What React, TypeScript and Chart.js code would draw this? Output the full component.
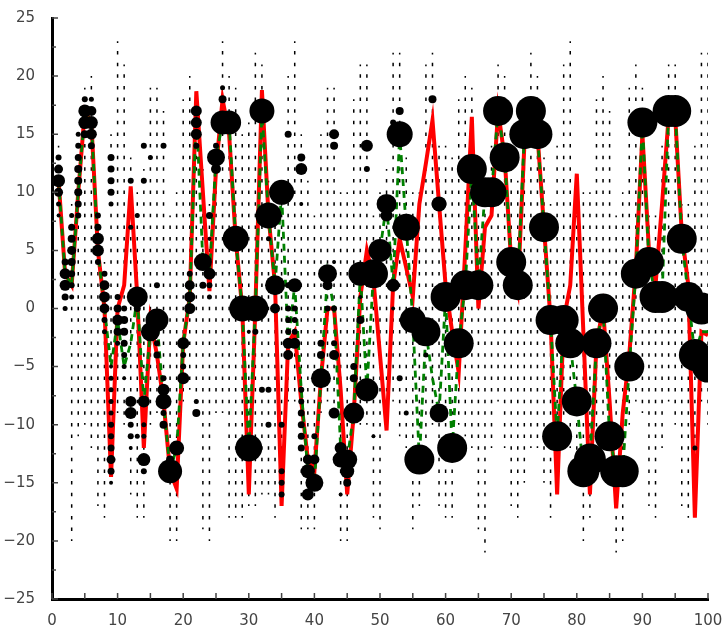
import React, { useEffect, useRef } from "react";
import { Chart, registerables } from "chart.js";

Chart.register(...registerables);

const xValues = [
  1, 2, 3, 4, 5, 6, 7, 8, 9, 10, 11, 12, 13, 14, 15, 16, 17, 18, 19, 20,
  21, 22, 23, 24, 25, 26, 27, 28, 29, 30, 31, 32, 33, 34, 35, 36, 37, 38, 39, 40,
  41, 42, 43, 44, 45, 46, 47, 48, 49, 50, 51, 52, 53, 54, 55, 56, 57, 58, 59, 60,
  61, 62, 63, 64, 65, 66, 67, 68, 69, 70, 71, 72, 73, 74, 75, 76, 77, 78, 79, 80,
  81, 82, 83, 84, 85, 86, 87, 88, 89, 90, 91, 92, 93, 94, 95, 96, 97, 98, 99, 100,
];

const redValues = [
  11, 3, 2, 10, 17, 16, 5, 0, -14.5, 0,
  2, 10.5, 1, -12, -1, -4, -8, -14, -15.5, -3,
  1, 18.7, 10, 1.5, 12, 18, 15, 6, 0, -16,
  0, 18.8, 8, 2, -17, -3, -2, -8, -13, -14,
  -6, 0, 0, -7, -16, -9, 1, 5, 2.5, -4,
  -10.5, 2, 6, 3.5, 1, 9, 12.5, 16.2, 9, 2,
  -2, -5.5, 5, 16.5, 0, 7, 8, 17, 13, 4,
  1.5, 14, 17, 15, 7, -1, -16, -1, 2, 11.6,
  -2, -16, -3, 0, -8, -17.2, -9, -4, 3.5, 15,
  5, 2, 9, 16.5, 16.5, 6.5, 2, -18, -2, -2.3,
];

const greenValues = [
  11, 3, 2, 10, 17, 16, 5, 0, -5, -1,
  -5, -3, 1, -8, -2, -1, -8, -14, -12, -3,
  1, 17, 4, 3, 13, 16, 16, 6, 0, -12,
  0, 17, 8, 2, 10, -3, 2, -7, -14, -15,
  -6, 3, 0, -12, -13, -9, 3, -7, 3, 5,
  9, 2, 15, 7, -1, -13, -2, -6, -9, 1,
  -12, -3, 2, 12, 2, 10, 10, 17, 13, 4,
  2, 15, 17, 15, 7, -1, -11, -1, -3, -8,
  -14, -13, -3, 0, -11, -14, -14, -5, 3, 16,
  4, 1, 1, 17, 17, 6, 1, -4, -2, -2,
];

// [x, y, radius]
const bubblePoints = [
  [1, 11, 6.5], [1, 12, 4.5], [1, 10, 4.5],
  [2, 3, 5.5], [2, 2, 5.5],
  [3, 5, 4.5], [3, 6, 4], [3, 4, 4],
  [5, 17, 6.5], [5, 16, 6.5], [6, 16, 6.5], [6, 17, 5], [6, 15, 5.5],
  [7, 6, 6], [7, 5, 6],
  [8, 1, 5.5], [8, 2, 5], [8, 0, 5],
  [9, -13, 4.5], [10, -1, 5.5], [12, -8, 5.5], [12, -9, 6],
  [13, 1, 10.5], [14, -8, 6], [14, -13, 6.5],
  [15, -2, 9.5], [16, -1, 11.5], [17, -8, 8], [17, -7, 6],
  [18, -14, 12], [19, -12, 7.5], [20, -3, 6], [20, -6, 6],
  [21, 1, 5.5], [21, 0, 5.5], [21, 2, 5],
  [22, 17, 5.5], [22, 16, 5.5], [22, 15, 5.5],
  [23, 4, 9], [24, 3, 6], [25, 13, 9], [25, 12, 5],
  [26, 16, 12], [27, 16, 12], [28, 6, 13], [29, 0, 13], [30, -12, 13.5],
  [31, 0, 13], [32, 17, 12.5], [33, 8, 13], [34, 2, 10], [35, 10, 12.5],
  [36, -3, 5.5], [36, -4, 5], [37, 2, 7], [37, -3, 5.5],
  [38, 12, 6], [38, 13, 4],
  [39, -13, 5], [39, -14, 7], [39, -16, 6], [40, -13, 5], [40, -15, 9],
  [41, -6, 10], [42, 3, 9.5], [42, 2, 5],
  [43, 15, 5], [43, 14, 4], [43, -4, 5], [43, -9, 5.5],
  [44, -12, 6], [44, -13, 8], [45, -13, 10], [45, -14, 7],
  [46, -9, 10.5], [47, 3, 12], [48, -7, 11.5], [48, 14, 6],
  [49, 3, 14.5], [50, 5, 11.5], [51, 9, 10], [51, 8, 6], [52, 2, 6.5],
  [53, 15, 13], [53, 17, 4], [54, 7, 13.5], [55, -1, 13], [56, -13, 15],
  [57, -2, 14.5], [58, 18, 4], [59, 9, 7.5], [59, -9, 9.5],
  [60, 1, 15], [61, -12, 15], [62, -3, 15], [63, 2, 15], [64, 12, 15],
  [65, 2, 15], [66, 10, 15], [67, 10, 15], [68, 17, 15], [69, 13, 15],
  [70, 4, 15], [71, 2, 15], [72, 15, 15], [73, 17, 15], [74, 15, 15],
  [75, 7, 15], [76, -1, 15], [77, -11, 15], [78, -1, 15], [79, -3, 15],
  [80, -8, 15], [81, -14, 16], [82, -13, 16], [83, -3, 15], [84, 0, 15],
  [85, -11, 15], [86, -14, 16], [87, -14, 16], [88, -5, 15], [89, 3, 15],
  [90, 16, 15], [91, 4, 15], [92, 1, 16], [93, 1, 16], [94, 17, 16],
  [95, 17, 16], [96, 6, 15], [97, 1, 15], [98, -4, 16], [99, 0, 16], [100, -5, 16],
];

// [x, y, radius] small dots
const dotPoints = [
  [1, 13, 3], [1, 9, 2.5], [1, 8, 2],
  [2, 4, 3.5], [2, 1, 3.5], [2, 0, 2.5],
  [3, 8, 2.5], [3, 7, 3.5], [3, 3, 3.5], [3, 2, 3], [3, 1, 2.5],
  [4, 15, 2.5], [4, 14, 3], [4, 13, 3.5], [4, 12, 4], [4, 11, 4], [4, 10, 4], [4, 9, 3.5], [4, 8, 3],
  [5, 18, 3], [5, 15, 4], [6, 18, 2.5], [6, 14, 3.5],
  [7, 8, 3], [7, 7, 3.5], [7, 4, 3],
  [8, 3, 3], [8, -1, 3], [8, -2, 2.5],
  [9, 13, 3.5], [9, 12, 3.5], [9, 11, 3.5], [9, 10, 3.5], [9, 9, 2.5],
  [9, -5, 2], [9, -6, 2.5], [9, -7, 2.5], [9, -8, 2.5], [9, -9, 2.5], [9, -10, 3],
  [9, -11, 3], [9, -12, 3.5], [9, -14, 3.5], [9, -15, 2],
  [10, 1, 3], [10, 0, 4], [10, -2, 4], [10, -3, 2.5],
  [11, 0, 3], [11, -1, 4], [11, -2, 4], [11, -3, 3.5], [11, -4, 3], [11, -5, 2.5], [11, -6, 2],
  [12, 11, 3], [12, 7, 2.5], [12, -10, 3], [12, -11, 3], [12, -12, 2],
  [13, 8, 2.5], [13, 0, 3.5], [13, -11, 2.5],
  [14, 14, 3], [14, 11, 3], [14, -10, 2.5], [14, -11, 2.5], [14, -14, 3],
  [15, 13, 2.5], [16, 2, 3], [16, -4, 3.5], [16, -3, 3],
  [17, 14, 3], [17, -6, 3], [17, -10, 4], [17, -9, 3],
  [18, -13, 4], [20, -4, 3], [20, -5, 3], [21, 3, 3],
  [22, 14, 3], [22, -8, 2.5], [22, -9, 4], [23, 2, 3.5],
  [24, 8, 3.5], [24, 6, 2], [24, 1, 2.5], [24, 2, 3],
  [25, 14, 3], [26, 19, 2.5], [26, 18, 4],
  [30, -2, 2], [31, -2, 3], [32, -7, 3],
  [33, 6, 2.5], [33, -7, 3], [33, -10, 3], [34, 0, 5],
  [35, -10, 3], [35, -14, 3], [35, -15, 3], [35, -16, 3],
  [36, 15, 3.5], [36, 2, 3], [36, 0, 3], [36, -1, 3], [36, -2, 3],
  [37, 0, 3], [37, -1, 3], [37, -2, 3],
  [38, 9, 2], [38, -7, 3], [38, -8, 3], [38, -9, 3.5], [38, -10, 3.5], [38, -11, 3.5], [38, -12, 3.5],
  [40, -11, 3], [41, -3, 3.5], [41, -4, 4], [42, 0, 3], [43, 0, 3], [43, -3, 3], [43, 4, 2],
  [44, -16, 2], [45, -15, 4], [46, -5, 3.5], [46, -6, 4], [47, 1, 2], [47, -1, 4],
  [48, 12, 3], [49, -11, 2], [52, 16, 3], [52, 0, 2], [53, -6, 3], [54, -9, 2.5],
  [57, -4, 2.5], [98, -12, 2.5],
];

const columnX = [
  1, 3, 4, 5, 6, 7, 8, 9, 10, 11, 12, 13, 14, 15, 16, 17, 18, 19, 20,
  21, 22, 23, 24, 25, 26, 27, 28, 29, 30, 31, 32, 33, 34, 35, 36, 37, 38, 39, 40,
  41, 42, 43, 44, 45, 46, 47, 48, 49, 50, 51, 52, 53, 54, 55, 56, 57, 58, 59, 60,
  61, 62, 63, 64, 65, 66, 67, 68, 69, 70, 71, 72, 73, 74, 75, 76, 77, 78, 79, 80,
  81, 82, 83, 84, 85, 86, 87, 88, 89, 90, 91, 92, 93, 94, 95, 96, 97, 98, 99, 100,
];
const columnHigh = [
  14, 9, 15, 19, 20, 8, 4, 15, 23, 21, 13, 10, 12, 19, 19, 17, 8, 10, 18,
  20, 14, 12, 9, 12, 23, 20, 19, 15, 16, 22, 21, 11, 8, 10, 20, 23, 15, 11, 8,
  15, 19, 19, 10, 10, 18, 21, 21, 8, 10, 12, 22, 22, 13, 10, 10, 21, 22, 14, 14,
  13, 18, 20, 19, 11, 10, 14, 21, 20, 12, 11, 14, 22, 20, 13, 9, 14, 21, 23, 8,
  10, 10, 18, 20, 17, 8, 10, 19, 21, 19, 8, 8, 14, 21, 21, 9, 9, 14, 22, 22,
];
const columnLow = [
  8, -20, -11, -10, -12, -17, -18, -15, -9, -10, -16, -18, -18, -10, -9, -8, -20, -20, -8,
  -7, -9, -19, -20, -9, -9, -18, -18, -18, -17, -17, -16, -16, -18, -17, -8, -8, -19, -19, -19,
  -9, -8, -9, -20, -20, -10, -10, -10, -18, -19, -8, -8, -11, -12, -19, -17, -12, -10, -17, -18,
  -18, -10, -11, -12, -19, -21, -12, -8, -12, -17, -18, -15, -12, -12, -15, -18, -14, -10, -12, -13,
  -20, -18, -12, -10, -14, -21, -20, -10, -8, -9, -17, -18, -12, -8, -10, -17, -18, -16, -8, -10,
];

const innerTicks = {
  id: "innerTicks",
  afterDraw(chart: any) {
    const { ctx, chartArea, scales } = chart;
    ctx.save();
    ctx.strokeStyle = "#444";
    ctx.lineWidth = 1.5;
    ctx.beginPath();
    for (const t of scales.y.ticks) {
      const py = scales.y.getPixelForValue(t.value);
      const len = t.value % 5 === 0 ? 6 : 4;
      ctx.moveTo(chartArea.left, py);
      ctx.lineTo(chartArea.left + len, py);
    }
    for (const t of scales.x.ticks) {
      const px = scales.x.getPixelForValue(t.value);
      ctx.moveTo(px, chartArea.bottom);
      ctx.lineTo(px, chartArea.bottom - 6);
    }
    ctx.stroke();
    ctx.restore();
  },
};

export default function App() {
  const ref = useRef<HTMLCanvasElement>(null);

  useEffect(() => {
    if (!ref.current) return;
    const columnData: any[] = [];
    columnX.forEach((x, i) => {
      columnData.push({ x, y: columnLow[i] });
      columnData.push({ x, y: columnHigh[i] });
      columnData.push({ x, y: null });
    });
    const font = { family: "'DejaVu Sans', sans-serif", size: 15 };
    const chart = new Chart(ref.current, {
      type: "line",
      data: {
        datasets: [
          {
            label: "columns",
            data: columnData,
            borderColor: "#000",
            borderWidth: 1.5,
            borderCapStyle: "butt",
            borderDash: (c: any) => {
              const s = c.chart.scales && c.chart.scales.y;
              if (!s) return [3.5, 8.14];
              const u = Math.abs(s.getPixelForValue(0) - s.getPixelForValue(1));
              return [3.5, u - 3.5];
            },
            borderDashOffset: 1.75,
            pointRadius: 0,
            pointHitRadius: 0,
            spanGaps: false,
            order: 5,
          } as any,
          {
            label: "red",
            data: xValues.map((x, i) => ({ x, y: redValues[i] })),
            borderColor: "rgb(255,0,0)",
            borderWidth: 4,
            pointRadius: 0,
            order: 4,
          },
          {
            label: "green",
            data: xValues.map((x, i) => ({ x, y: greenValues[i] })),
            borderColor: "rgb(0,128,0)",
            borderWidth: 2.8,
            borderDash: [7, 5],
            pointRadius: 0,
            order: 3,
          },
          {
            type: "bubble",
            label: "bubbles",
            data: bubblePoints.map(([x, y, r]) => ({ x, y, r })),
            backgroundColor: "#000",
            borderWidth: 0,
            clip: 0,
            order: 2,
          } as any,
          {
            type: "bubble",
            label: "dots",
            data: dotPoints.map(([x, y, r]) => ({ x, y, r })),
            backgroundColor: "#000",
            borderWidth: 0,
            clip: 0,
            order: 1,
          } as any,
        ],
      },
      options: {
        animation: false,
        responsive: false,
        events: [],
        layout: { padding: { top: 17, right: 20, left: 0, bottom: 0 } },
        plugins: { legend: { display: false }, tooltip: { enabled: false } },
        scales: {
          x: {
            type: "linear",
            min: 0,
            max: 100,
            afterFit: (s: any) => {
              s.height = 31;
            },
            grid: { display: false },
            border: { display: true, color: "#000", width: 3 },
            ticks: {
              stepSize: 5,
              autoSkip: false,
              maxRotation: 0,
              padding: 5,
              color: "#444",
              font,
              callback: (v: any) => (Number(v) % 10 === 0 ? String(v) : ""),
            },
          },
          y: {
            type: "linear",
            min: -25,
            max: 25,
            afterFit: (s: any) => {
              s.width = 52;
            },
            grid: { display: false },
            border: { display: true, color: "#000", width: 3 },
            ticks: {
              stepSize: 2.5,
              autoSkip: false,
              padding: 9,
              color: "#444",
              font,
              callback: (v: any) => {
                const n = Number(v);
                if (n % 5 !== 0) return "";
                return n < 0 ? "\u2212" + Math.abs(n) : String(n);
              },
            },
          },
        },
      } as any,
      plugins: [innerTicks],
    });
    return () => chart.destroy();
  }, []);

  return (
    <div style={{ position: "absolute", left: 0, top: 0, width: 728, height: 630, background: "#fff" }}>
      <canvas ref={ref} width={728} height={630} style={{ display: "block", width: 728, height: 630 }} />
    </div>
  );
}
